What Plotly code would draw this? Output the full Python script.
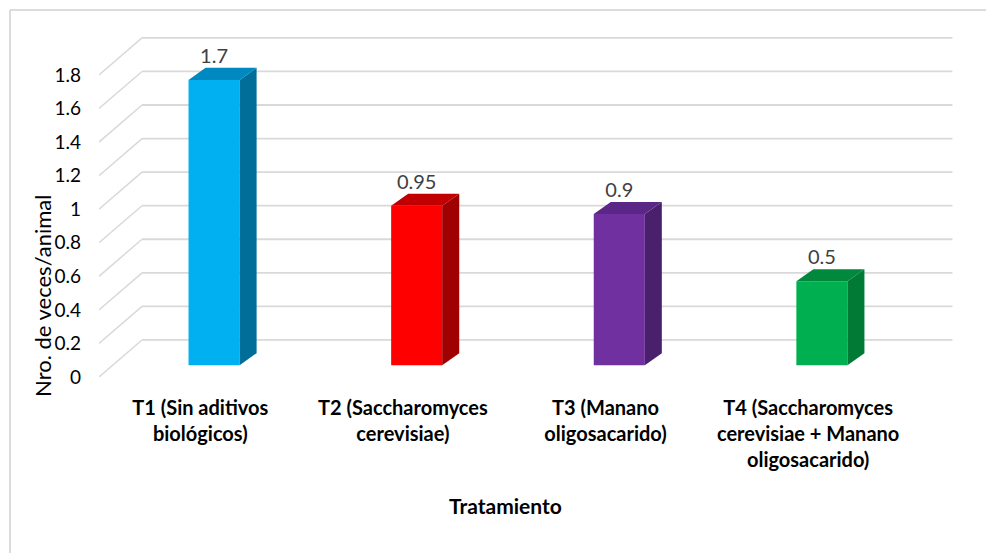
import plotly.graph_objects as go

# ---- data ----
categories = [
    "T1 (Sin aditivos<br>biológicos)",
    "T2 (Saccharomyces<br>cerevisiae)",
    "T3 (Manano<br>oligosacarido)",
    "T4 (Saccharomyces<br>cerevisiae + Manano<br>oligosacarido)",
]
values = [1.7, 0.95, 0.9, 0.5]
y_ticks = [0, 0.2, 0.4, 0.6, 0.8, 1.0, 1.2, 1.4, 1.6, 1.8]
y_ticktext = ["0", "0.2", "0.4", "0.6", "0.8", "1", "1.2", "1.4", "1.6", "1.8"]

# ---- colours (front face, side face, top face) ----
front_colors = ["#00B0F0", "#FF0000", "#7030A0", "#00B050"]
side_colors = ["#006E99", "#A00000", "#4A1F6C", "#007A35"]
top_colors = ["#0088C0", "#C00000", "#5A2786", "#00883C"]

# ---- oblique 3D projection parameters (axis units) ----
DEPTH_X = 0.2123   # shift along x for full floor depth
DEPTH_Y = 0.2208   # shift along y for full floor depth
BAR_D0 = 0.32      # depth fraction where bar front faces sit
BAR_W = 0.252      # bar front width
SIDE_X = 0.084     # bar side depth in x
SIDE_Y = 0.0716    # bar side depth in y
X_LO, X_HI = -0.5, 3.5

FONT = "Lato"
GRID = "#D9D9D9"

fig = go.Figure()

# back wall + side wall gridlines (behind the bars)
shapes = []
for v in y_ticks:
    shapes.append(dict(type="line", xref="x", yref="y", layer="below",
                       x0=X_LO, y0=v, x1=X_LO + DEPTH_X, y1=v + DEPTH_Y,
                       line=dict(color=GRID, width=1.5)))
    shapes.append(dict(type="line", xref="x", yref="y", layer="below",
                       x0=X_LO + DEPTH_X, y0=v + DEPTH_Y, x1=X_HI + DEPTH_X, y1=v + DEPTH_Y,
                       line=dict(color=GRID, width=1.8)))

# chart frame (top and left edges)
fx = (10 - 99) / 855
fy_top = (377 - 10) / 344
fy_bot = (377 - 560) / 344
shapes.append(dict(type="line", xref="paper", yref="paper", x0=fx, y0=fy_bot, x1=fx, y1=fy_top,
                   line=dict(color="#D0D0D0", width=1.5)))
shapes.append(dict(type="line", xref="paper", yref="paper", x0=fx, y0=fy_top, x1=1.1, y1=fy_top,
                   line=dict(color="#D0D0D0", width=1.5)))

# bar front faces
base = BAR_D0 * DEPTH_Y
xc = [i + BAR_D0 * DEPTH_X for i in range(len(values))]
fig.add_trace(go.Bar(
    x=xc, y=values, base=base, width=BAR_W,
    marker=dict(color=front_colors, line=dict(width=0)),
    hoverinfo="skip", showlegend=False,
))

# side and top faces
for i, v in enumerate(values):
    xl = xc[i] - BAR_W / 2
    xr = xc[i] + BAR_W / 2
    yb = base
    yt = base + v
    fig.add_trace(go.Scatter(
        x=[xr, xr + SIDE_X, xr + SIDE_X, xr, xr],
        y=[yb, yb + SIDE_Y, yt + SIDE_Y, yt, yb],
        fill="toself", fillcolor=side_colors[i], mode="lines",
        line=dict(width=0, color=side_colors[i]),
        hoverinfo="skip", showlegend=False,
    ))
    fig.add_trace(go.Scatter(
        x=[xl, xr, xr + SIDE_X, xl + SIDE_X, xl],
        y=[yt, yt, yt + SIDE_Y, yt + SIDE_Y, yt],
        fill="toself", fillcolor=top_colors[i], mode="lines",
        line=dict(width=0, color=top_colors[i]),
        hoverinfo="skip", showlegend=False,
    ))

# value labels
fig.add_trace(go.Scatter(
    x=xc, y=[v + base + SIDE_Y for v in values],
    text=[f"{v:g}" for v in values],
    mode="text", textposition="top center",
    textfont=dict(family=FONT, size=20, color="#404040"),
    hoverinfo="skip", showlegend=False,
))

fig.update_layout(
    width=986, height=553,
    margin=dict(l=99, r=32, t=33, b=176),
    paper_bgcolor="white", plot_bgcolor="white",
    shapes=shapes,
    showlegend=False,
    xaxis=dict(
        range=[X_LO, 3.72], tickmode="array", tickvals=list(range(len(categories))),
        ticktext=[f"<b>{c}</b>" for c in categories],
        tickfont=dict(family=FONT, size=20, color="#000000"),
        showgrid=False, zeroline=False, showline=False, ticks="",
        ticklabelstandoff=17, automargin=False, fixedrange=True,
    ),
    yaxis=dict(
        range=[0, 2.05], tickmode="array", tickvals=y_ticks, ticktext=y_ticktext,
        tickfont=dict(family=FONT, size=19, color="#000000"),
        showgrid=False, zeroline=False, showline=False, ticks="",
        ticklabelstandoff=17, automargin=False, fixedrange=True,
    ),
    annotations=[
        dict(text="Nro. de veces/animal", xref="paper", yref="paper",
             x=(42 - 99) / 855, y=(377 - 296) / 344, textangle=-90,
             xanchor="center", yanchor="middle", showarrow=False,
             font=dict(family=FONT, size=22, color="#000000")),
        dict(text="<b>Tratamiento</b>", xref="paper", yref="paper",
             x=(505 - 99) / 855, y=(377 - 505) / 344,
             xanchor="center", yanchor="middle", showarrow=False,
             font=dict(family=FONT, size=21, color="#000000")),
    ],
)

fig.write_html("out.html")
